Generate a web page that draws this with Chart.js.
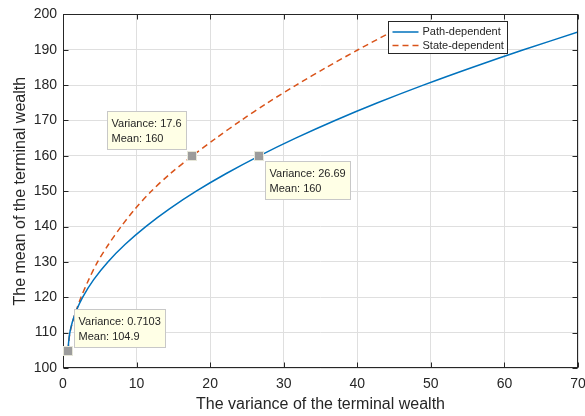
<!DOCTYPE html>
<html>
<head>
<meta charset="utf-8">
<script src="https://cdn.jsdelivr.net/npm/chart.js@4.4.1/dist/chart.umd.min.js"></script>
<style>
  html, body { margin: 0; padding: 0; background: #fff; }
</style>
</head>
<body>
<canvas id="chart" width="585" height="416"></canvas>
<script>
// Data
const xTicks = [0, 10, 20, 30, 40, 50, 60, 70];
const yTicks = [100, 110, 120, 130, 140, 150, 160, 170, 180, 190, 200];

const pathVar  = [0.71, 0.75, 0.93, 1.27, 1.76, 2.66, 4.17, 6.10, 8.46, 11.25, 14.47, 18.11, 22.19, 26.69, 31.62, 36.97, 42.76, 48.97, 55.6, 62.6, 70];
const pathMean = [104.9, 107, 110, 113, 116, 120, 125, 130, 135, 140, 145, 150, 155, 160, 165, 170, 175, 180, 185, 190, 195];

const stateVar  = [0.71, 0.76, 0.95, 1.3, 1.75, 2.45, 3.5, 4.7, 6.2, 7.9, 9.8, 12.0, 14.6, 17.6, 20.8, 24.2, 27.8, 31.7, 35.8, 40.1, 44.6];
const stateMean = [104.9, 107, 110, 113, 116, 120, 125, 130, 135, 140, 145, 150, 155, 160, 165, 170, 175, 180, 185, 190, 195];

// Data tips
const tipVar      = [0.7103, 17.6, 26.69];
const tipMean     = [104.9, 160, 160];
const tipVarText  = ["0.7103", "17.6", "26.69"];
const tipMeanText = ["104.9", "160", "160"];

const FONT   = "'Liberation Sans', Arial, Helvetica, sans-serif";
const INK    = "#262626";
const BLUE   = "#0072BD";
const ORANGE = "#D95319";

function zip(xs, ys) {
  return xs.map(function (x, i) { return { x: x, y: ys[i] }; });
}

// ============================================================
//  FRAME, INNER TICKS, DATA TIPS, LEGEND
// ============================================================
const tipSide = ["ne", "nw", "se"];

const decor = {
  id: "decor",
  afterDatasetsDraw(chart) {
    const ctx = chart.ctx;
    const a   = chart.chartArea;
    const sx  = chart.scales.x, sy = chart.scales.y;
    const L = Math.round(a.left) + 0.5, R = Math.round(a.right) - 0.5;
    const T = Math.round(a.top) + 0.5,  B = Math.round(a.bottom) - 0.5;
    const TL = 5;

    ctx.save();
    ctx.strokeStyle = INK;
    ctx.lineWidth = 1;
    ctx.strokeRect(L, T, R - L, B - T);

    ctx.beginPath();
    xTicks.forEach(function (v) {
      const px = Math.round(sx.getPixelForValue(v)) + 0.5;
      ctx.moveTo(px, B); ctx.lineTo(px, B - TL);
      ctx.moveTo(px, T); ctx.lineTo(px, T + TL);
    });
    yTicks.forEach(function (v) {
      const py = Math.round(sy.getPixelForValue(v)) + 0.5;
      ctx.moveTo(L, py); ctx.lineTo(L + TL, py);
      ctx.moveTo(R, py); ctx.lineTo(R - TL, py);
    });
    ctx.stroke();

    // data tips
    ctx.font = "11px " + FONT;
    ctx.textBaseline = "middle";
    ctx.textAlign = "left";
    tipVar.forEach(function (v, i) {
      const mx = sx.getPixelForValue(v);
      const my = sy.getPixelForValue(tipMean[i]);
      const l1 = "Variance: " + tipVarText[i];
      const l2 = "Mean: " + tipMeanText[i];
      const w  = Math.ceil(Math.max(ctx.measureText(l1).width, ctx.measureText(l2).width)) + 8;
      const h  = 38;
      let bx, by;
      if (tipSide[i] === "nw") { bx = mx - 6 - w; by = my - 7 - h; }
      else if (tipSide[i] === "se") { bx = mx + 6; by = my + 5; }
      else { bx = mx + 6; by = my - 4 - h; }
      bx = Math.round(bx) + 0.5; by = Math.round(by) + 0.5;

      ctx.fillStyle = "#ffffe6";
      ctx.fillRect(bx, by, w, h);
      ctx.strokeStyle = "#c8c8c8";
      ctx.strokeRect(bx, by, w, h);
      ctx.fillStyle = INK;
      ctx.fillText(l1, bx + 4, by + 12.5);
      ctx.fillText(l2, bx + 4, by + 27.5);

      // marker
      ctx.fillStyle = "#9c9c9c";
      ctx.fillRect(Math.round(mx) - 4, Math.round(my) - 4, 8, 8);
      ctx.strokeStyle = "#e6e6d8";
      ctx.strokeRect(Math.round(mx) - 4.5, Math.round(my) - 4.5, 9, 9);
    });

    // legend
    const sets = chart.data.datasets;
    ctx.font = "11px " + FONT;
    let tw = 0;
    sets.forEach(function (d) { tw = Math.max(tw, ctx.measureText(d.label).width); });
    const lw = Math.ceil(4 + 26 + 4 + tw + 3);
    const lh = 32;
    const lx = Math.round(a.right - 71 - lw) + 0.5;
    const ly = Math.round(a.top + 7) + 0.5;
    ctx.fillStyle = "#fff";
    ctx.fillRect(lx, ly, lw, lh);
    ctx.strokeStyle = INK;
    ctx.lineWidth = 1;
    ctx.strokeRect(lx, ly, lw, lh);
    sets.forEach(function (d, i) {
      const ry = ly + 10.5 + i * 13.6;
      ctx.strokeStyle = d.borderColor;
      ctx.lineWidth = d.borderWidth;
      ctx.setLineDash(d.borderDash || []);
      ctx.beginPath();
      ctx.moveTo(lx + 4, ry);
      ctx.lineTo(lx + 30, ry);
      ctx.stroke();
      ctx.setLineDash([]);
      ctx.fillStyle = INK;
      ctx.fillText(d.label, lx + 34, ry);
    });
    ctx.restore();
  }
};

// ============================================================
//  CHART
// ============================================================
const chart = new Chart(document.getElementById("chart").getContext("2d"), {
  type: "scatter",
  data: {
    datasets: [
      {
        label: "Path-dependent",
        data: zip(pathVar, pathMean),
        showLine: true,
        borderColor: BLUE,
        borderWidth: 1.5,
        pointRadius: 0,
        tension: 0.3
      },
      {
        label: "State-dependent",
        data: zip(stateVar, stateMean),
        showLine: true,
        borderColor: ORANGE,
        borderWidth: 1.5,
        borderDash: [6, 4],
        pointRadius: 0,
        tension: 0.3
      }
    ]
  },
  options: {
    responsive: false,
    animation: false,
    events: [],
    layout: { padding: { top: 13, right: 7, left: 0, bottom: 0 } },
    plugins: { legend: { display: false }, tooltip: { enabled: false } },
    scales: {
      x: {
        type: "linear",
        min: xTicks[0],
        max: xTicks[xTicks.length - 1],
        afterBuildTicks: function (s) { s.ticks = xTicks.map(function (v) { return { value: v }; }); },
        afterFit: function (s) { s.height = 48; s.paddingLeft = 0; s.paddingRight = 0; },
        grid: { color: "#dfdfdf", drawTicks: false },
        border: { display: false },
        ticks: { color: INK, font: { family: FONT, size: 14 }, padding: 8, maxRotation: 0 },
        title: {
          display: true,
          text: "The variance of the terminal wealth",
          color: INK,
          font: { family: FONT, size: 16 },
          padding: { top: 0, bottom: 2 }
        }
      },
      y: {
        type: "linear",
        min: yTicks[0],
        max: yTicks[yTicks.length - 1],
        afterBuildTicks: function (s) { s.ticks = yTicks.map(function (v) { return { value: v }; }); },
        afterFit: function (s) { s.width = 63; },
        grid: { color: "#dfdfdf", drawTicks: false },
        border: { display: false },
        ticks: { color: INK, font: { family: FONT, size: 14 }, padding: 6 },
        title: {
          display: true,
          text: "The mean of the terminal wealth",
          color: INK,
          font: { family: FONT, size: 16 },
          padding: { top: 11, bottom: 0 }
        }
      }
    }
  },
  plugins: [decor]
});
</script>
</body>
</html>
